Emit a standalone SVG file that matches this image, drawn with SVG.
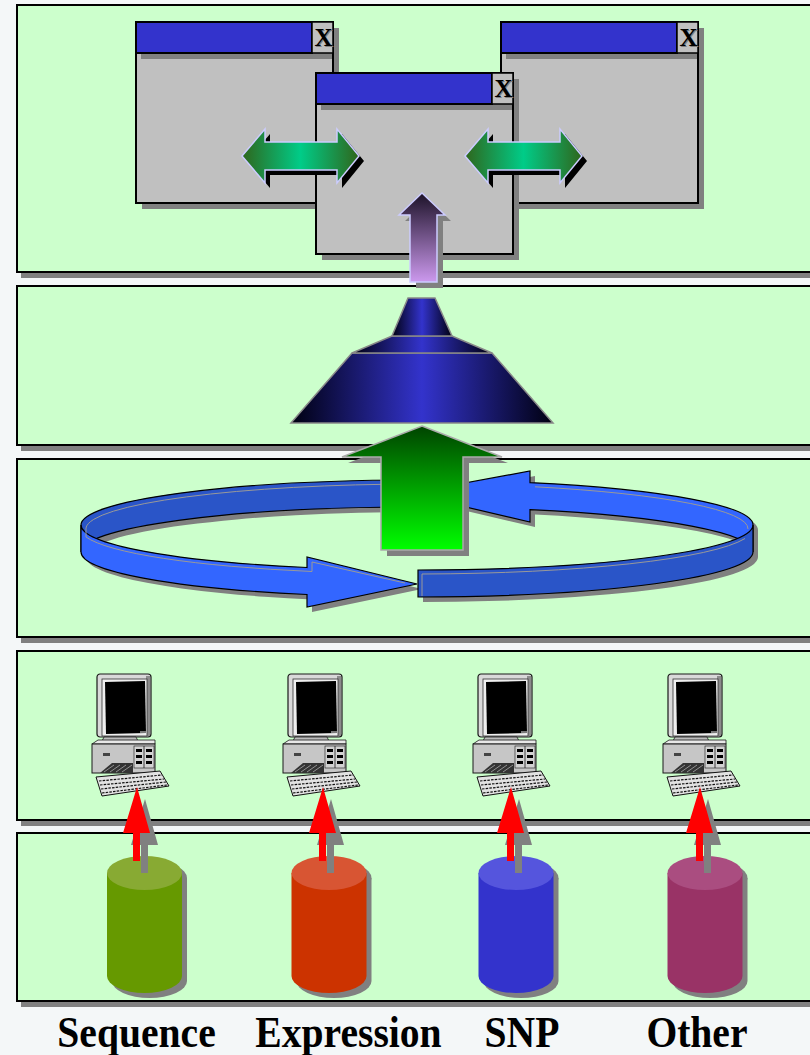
<svg xmlns="http://www.w3.org/2000/svg" width="810" height="1055" viewBox="0 0 810 1055">
  <style>
    .panel{fill:#ccffcc;stroke:#000;stroke-width:2}
    .shadow{fill:#808080}
    .blackshadow{fill:#000}
    .winbody{fill:#c0c0c0;stroke:#000;stroke-width:2}
    .titlebar{fill:#3333cc;stroke:#000;stroke-width:2}
    .closebox{fill:#c0c0c0;stroke:#000;stroke-width:1.5}
    .xmark{font-family:"Liberation Serif","Times New Roman",serif;font-weight:bold;font-size:25px;text-anchor:middle}
    .twin{fill:url(#gTwin);stroke:#ccccff;stroke-width:1.5}
    .ringdark{fill:#2a55c8;stroke:#000;stroke-width:1.2}
    .ringbright{fill:#3366ff;stroke:#000;stroke-width:1.2}
    .ringline{fill:none;stroke:#999;stroke-width:1}
    .funnel{fill:url(#gFunnel);stroke:#888;stroke-width:1.5}
    .label{font-family:"Liberation Serif","Times New Roman",serif;font-weight:bold;font-size:44px;text-anchor:middle;fill:#000}
    .redarrow{fill:#ff0000}
  </style>
  <defs>
    <linearGradient id="gTwin" x1="0" y1="0" x2="1" y2="0">
      <stop offset="0" stop-color="#2f661c"/>
      <stop offset="0.5" stop-color="#00cc88"/>
      <stop offset="1" stop-color="#2f661c"/>
    </linearGradient>
    <linearGradient id="gPurple" x1="0" y1="0" x2="0" y2="1">
      <stop offset="0" stop-color="#1c1228"/>
      <stop offset="1" stop-color="#cc99ee"/>
    </linearGradient>
    <linearGradient id="gFunnel" x1="0" y1="0" x2="1" y2="0">
      <stop offset="0" stop-color="#000010"/>
      <stop offset="0.5" stop-color="#3333cc"/>
      <stop offset="1" stop-color="#000010"/>
    </linearGradient>
    <linearGradient id="gGreen" x1="0" y1="0" x2="0" y2="1">
      <stop offset="0" stop-color="#004400"/>
      <stop offset="1" stop-color="#00ff00"/>
    </linearGradient>

    <!-- application window: body, title bar, close box -->
    <g id="win">
      <rect class="shadow" x="6" y="6" width="197" height="181"/>
      <rect class="winbody" x="0" y="0" width="197" height="181"/>
      <rect class="shadow" x="5" y="31" width="191" height="6"/>
      <rect class="titlebar" x="0" y="0" width="176" height="31"/>
      <rect class="closebox" x="176" y="0" width="21" height="31"/>
      <text class="xmark" x="188.5" y="25" fill="#808080">X</text>
      <text class="xmark" x="187.5" y="24" fill="#000">X</text>
    </g>

    <!-- desktop computer: monitor, system unit, keyboard -->
    <g id="pc">
      <rect x="5" y="0" width="54" height="63" rx="3" fill="#d9d9d9" stroke="#1a1a1a" stroke-width="1.2"/>
      <rect x="54" y="2" width="4" height="60" fill="#8c8c8c"/>
      <rect x="10" y="5" width="45" height="57" fill="#efefef" stroke="#333" stroke-width="0.8"/>
      <polygon points="13,8 53,7 54,59 14,60" fill="#000"/>
      <rect x="48" y="57" width="6" height="2" fill="#777"/>
      <polygon points="12,63 44,63 46,67 10,67" fill="#bdbdbd" stroke="#1a1a1a" stroke-width="0.8"/>
      <polygon points="0,70 6,66 63,66 63,70" fill="#e8e8e8" stroke="#1a1a1a" stroke-width="0.8"/>
      <rect x="0" y="70" width="63" height="29" fill="#c6c6c6" stroke="#1a1a1a" stroke-width="1"/>
      <rect x="42" y="72" width="20" height="22" fill="#d2d2d2" stroke="#1a1a1a" stroke-width="0.6"/>
      <line x1="52" y1="72" x2="52" y2="94" stroke="#1a1a1a" stroke-width="0.8"/>
      <rect x="44" y="75" width="6" height="3" fill="#000"/>
      <rect x="54" y="75" width="6" height="3" fill="#000"/>
      <rect x="44" y="81" width="6" height="3" fill="#000"/>
      <rect x="54" y="81" width="6" height="3" fill="#000"/>
      <rect x="44" y="87" width="6" height="3" fill="#000"/>
      <rect x="54" y="87" width="6" height="3" fill="#000"/>
      <rect x="11" y="79" width="7" height="3" fill="#444"/>
      <polygon points="8,99 20,89 41,89 41,99" fill="#333"/>
      <path d="M12,98 L22,91 M18,98 L28,91 M24,98 L34,91 M30,98 L40,91" stroke="#aaa" stroke-width="0.8"/>
      <polygon points="4,103 68,97 77,112 10,122" fill="#e2e2e2" stroke="#111" stroke-width="1"/>
      <path d="M7,107 L70,101 M8,111 L72,105 M9,115 L74,108 M10,119 L75,111" stroke="#111" stroke-width="1.2" stroke-dasharray="2.5 1.2"/>
    </g>
  </defs>

  <!-- page -->
  <rect x="0" y="0" width="810" height="1055" fill="#f4f7f8"/>

  <!-- layer panels -->
  <g id="panels">
    <rect class="shadow" x="21" y="11" width="800" height="267"/>
    <rect class="panel" x="17" y="5" width="800" height="267"/>
    <rect class="shadow" x="21" y="292" width="800" height="159"/>
    <rect class="panel" x="17" y="286" width="800" height="159"/>
    <rect class="shadow" x="21" y="465" width="800" height="178"/>
    <rect class="panel" x="17" y="459" width="800" height="178"/>
    <rect class="shadow" x="21" y="657" width="800" height="169"/>
    <rect class="panel" x="17" y="651" width="800" height="169"/>
    <rect class="shadow" x="21" y="839" width="800" height="168"/>
    <rect class="panel" x="17" y="833" width="800" height="168"/>
  </g>

  <!-- top layer: three windows -->
  <g id="window-left"><use href="#win" x="136" y="22"/></g>
  <g id="window-right"><use href="#win" x="501" y="22"/></g>
  <g id="window-center"><use href="#win" x="316" y="73"/></g>

  <!-- integration funnel -->
  <g id="funnel">
    <polygon class="funnel" points="352,353 492,353 553,423 291,423"/>
    <polygon class="funnel" points="392,336 452,336 492,353 352,353"/>
    <polygon class="funnel" points="408,298 435,298 452,336 392,336"/>
  </g>

  <!-- cycle ribbon made of two curved arrows -->
  <g id="cycle">
    <g class="shadow" transform="translate(5,5)">
      <path d="M420,480 A336,45 0 0,0 81,525 L81,552 A336,45 0 0,1 420,507 Z"/>
      <path d="M753,525 A336,45 0 0,0 530,482.6 L530,471 L408,493.5 L530,522 L530,509.6 A336,45 0 0,1 753,552 Z"/>
      <path d="M81,525 A336,45 0 0,0 307,567.5 L307,557 L417,584 L307,607 L307,594.5 A336,45 0 0,1 81,552 Z"/>
      <path d="M418,570 A336,45 0 0,0 753,525 L753,552 A336,45 0 0,1 418,597 Z"/>
    </g>
    <path class="ringdark" d="M420,480 A336,45 0 0,0 81,525 L81,552 A336,45 0 0,1 420,507 Z"/>
    <path class="ringbright" d="M753,525 A336,45 0 0,0 530,482.6 L530,471 L408,493.5 L530,522 L530,509.6 A336,45 0 0,1 753,552 Z"/>
    <path class="ringbright" d="M81,525 A336,45 0 0,0 307,567.5 L307,557 L417,584 L307,607 L307,594.5 A336,45 0 0,1 81,552 Z"/>
    <path class="ringdark" d="M418,570 A336,45 0 0,0 753,525 L753,552 A336,45 0 0,1 418,597 Z"/>
    <path class="ringline" d="M420,484 A336,45 0 0,0 86,528 L86,537 A336,45 0 0,0 312,571.5 L312,562 L405,583"/>
    <path class="ringline" d="M535,486.8 A336,45 0 0,1 748,529"/>
    <path class="ringline" d="M422,596 L422,574 A336,45 0 0,0 745,538.5"/>
  </g>

  <!-- computers -->
  <g id="computer-1"><use href="#pc" x="92" y="674"/></g>
  <g id="computer-2"><use href="#pc" x="283" y="674"/></g>
  <g id="computer-3"><use href="#pc" x="473" y="674"/></g>
  <g id="computer-4"><use href="#pc" x="663" y="674"/></g>

  <!-- data stores -->
  <g id="db-sequence">
    <g class="shadow" transform="translate(5,5)">
      <path d="M107,873 V976 A37.5,17 0 0,0 182,976 V873 Z"/>
      <ellipse cx="144.5" cy="873" rx="37.5" ry="17"/>
    </g>
    <path d="M107,873 V976 A37.5,17 0 0,0 182,976 V873 Z" fill="#669900"/>
    <ellipse cx="144.5" cy="873" rx="37.5" ry="17" fill="#88aa33"/>
  </g>
  <g id="db-expression">
    <g class="shadow" transform="translate(5,5)">
      <path d="M291.5,873 V976 A37.5,17 0 0,0 366.5,976 V873 Z"/>
      <ellipse cx="329" cy="873" rx="37.5" ry="17"/>
    </g>
    <path d="M291.5,873 V976 A37.5,17 0 0,0 366.5,976 V873 Z" fill="#cc3300"/>
    <ellipse cx="329" cy="873" rx="37.5" ry="17" fill="#d85533"/>
  </g>
  <g id="db-snp">
    <g class="shadow" transform="translate(5,5)">
      <path d="M478.5,873 V976 A37.5,17 0 0,0 553.5,976 V873 Z"/>
      <ellipse cx="516" cy="873" rx="37.5" ry="17"/>
    </g>
    <path d="M478.5,873 V976 A37.5,17 0 0,0 553.5,976 V873 Z" fill="#3333cc"/>
    <ellipse cx="516" cy="873" rx="37.5" ry="17" fill="#5555dd"/>
  </g>
  <g id="db-other">
    <g class="shadow" transform="translate(5,5)">
      <path d="M667.5,873 V976 A37.5,17 0 0,0 742.5,976 V873 Z"/>
      <ellipse cx="705" cy="873" rx="37.5" ry="17"/>
    </g>
    <path d="M667.5,873 V976 A37.5,17 0 0,0 742.5,976 V873 Z" fill="#993366"/>
    <ellipse cx="705" cy="873" rx="37.5" ry="17" fill="#aa4d80"/>
  </g>

  <!-- labels: condensed bold serif -->
  <g id="labels" transform="scale(0.9,1)">
    <text class="label" x="151.7" y="1047">Sequence</text>
    <text class="label" x="387.2" y="1047">Expression</text>
    <text class="label" x="580" y="1047">SNP</text>
    <text class="label" x="774.4" y="1047">Other</text>
  </g>

  <!-- connectors -->
  <g id="connectors">
    <!-- window-to-window exchange -->
    <g id="exchange-left">
      <path class="blackshadow" transform="translate(5,5)" d="M242,156 L265,129 L265,142 L337,142 L337,129 L359,156 L337,183 L337,170 L265,170 L265,183 Z"/>
      <path class="twin" d="M242,156 L265,129 L265,142 L337,142 L337,129 L359,156 L337,183 L337,170 L265,170 L265,183 Z"/>
    </g>
    <g id="exchange-right">
      <path class="blackshadow" transform="translate(5,5)" d="M465,156 L488,129 L488,142 L560,142 L560,129 L582,156 L560,183 L560,170 L488,170 L488,183 Z"/>
      <path class="twin" d="M465,156 L488,129 L488,142 L560,142 L560,129 L582,156 L560,183 L560,170 L488,170 L488,183 Z"/>
    </g>
    <!-- funnel to applications -->
    <g id="up-purple">
      <polygon class="shadow" transform="translate(6,6)" points="422,193 445,215 437,215 437,282 410,282 410,215 399,215"/>
      <polygon points="422,193 445,215 437,215 437,282 410,282 410,215 399,215" fill="url(#gPurple)" stroke="#ccccff" stroke-width="1.5"/>
    </g>
    <!-- cycle to funnel -->
    <g id="up-green">
      <polygon class="shadow" transform="translate(6,6)" points="422,426 502,457 463,457 463,550 381,550 381,457 342,457"/>
      <polygon points="422,426 502,457 463,457 463,550 381,550 381,457 342,457" fill="url(#gGreen)" stroke="#aaaaaa" stroke-width="1.5"/>
    </g>
    <!-- data stores to computers -->
    <g id="up-red-1">
      <polygon class="shadow" transform="translate(8,12)" points="137,787 150,833 140,833 140,861 133,861 133,833 123,833"/>
      <polygon class="redarrow" points="137,787 150,833 140,833 140,861 133,861 133,833 123,833"/>
    </g>
    <g id="up-red-2">
      <polygon class="shadow" transform="translate(8,12)" points="323,787 336,833 326,833 326,861 319,861 319,833 309,833"/>
      <polygon class="redarrow" points="323,787 336,833 326,833 326,861 319,861 319,833 309,833"/>
    </g>
    <g id="up-red-3">
      <polygon class="shadow" transform="translate(8,12)" points="511,787 524,833 514,833 514,861 507,861 507,833 497,833"/>
      <polygon class="redarrow" points="511,787 524,833 514,833 514,861 507,861 507,833 497,833"/>
    </g>
    <g id="up-red-4">
      <polygon class="shadow" transform="translate(8,12)" points="700,787 713,833 703,833 703,861 696,861 696,833 686,833"/>
      <polygon class="redarrow" points="700,787 713,833 703,833 703,861 696,861 696,833 686,833"/>
    </g>
  </g>
</svg>
